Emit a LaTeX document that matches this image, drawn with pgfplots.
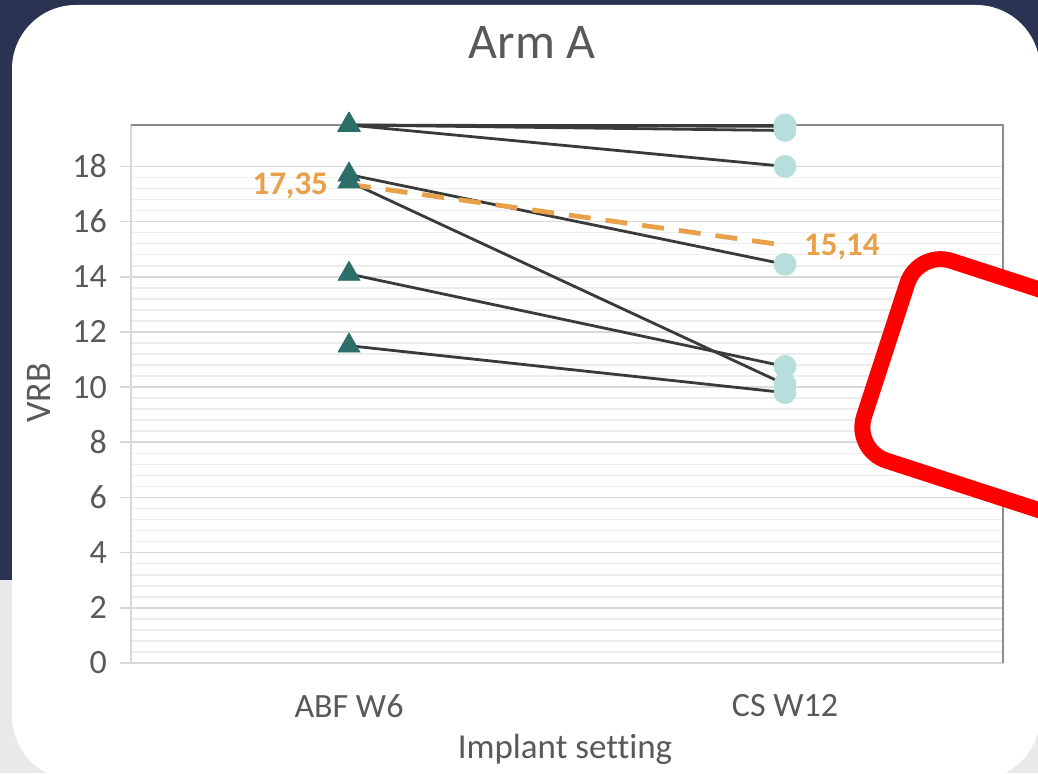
\documentclass[border=0pt]{standalone}
\usepackage{fontspec}
\setmainfont{Carlito}[Ligatures=NoCommon]
\usepackage{pgfplots}
\usepackage{pgfplotstable}
\pgfplotsset{compat=1.18}

\definecolor{navy}{HTML}{2B3352}
\definecolor{greybg}{HTML}{E9E9E9}
\definecolor{txtgrey}{HTML}{595959}
\definecolor{majgrid}{HTML}{D9D9D9}
\definecolor{mingrid}{HTML}{EDEDED}
\definecolor{borderdark}{HTML}{8C8C8C}
\definecolor{linegrey}{HTML}{3A3A3A}
\definecolor{darkteal}{HTML}{2C6E6A}
\definecolor{lightteal}{HTML}{B6DEDA}
\definecolor{meanorange}{HTML}{E8A04A}
\definecolor{boxred}{HTML}{FF0000}

% VRB per subject: x=0 ABF W6, x=1 CS W12
\pgfplotstableread{
x s1 s2 s3 s4 s5 s6 s7 s8
0 19.5 19.5 19.5 19.5 17.7 17.45 14.1 11.5
1 19.5 19.45 19.3 18.0 14.45 10.1 10.75 9.8
}\subjects

\pgfplotstableread{
x mean ang sh
0 17.35 0 -6
1 15.14 180 5
}\means

\begin{document}
\begin{tikzpicture}
\useasboundingbox (0,0) rectangle (519pt,386.5pt);
\begin{scope}[x=0.5pt,y=0.5pt]
  \clip (0,0) rectangle (1038,773);
  \fill[navy] (0,0) rectangle (1038,773);
  \fill[greybg] (0,0) rectangle (1038,193);
  \fill[white, rounded corners=32pt] (12,-7) rectangle (1040,768);
\end{scope}

\begin{axis}[
  at={(65.5pt,55pt)}, anchor=south west,
  scale only axis, width=436pt, height=269pt,
  xmin=-0.5, xmax=1.5, ymin=0, ymax=19.5,
  xtick={0,1}, xticklabels={ABF W6, CS W12},
  ytick={0,2,...,18},
  minor y tick num=4,
  ymajorgrids, yminorgrids,
  major grid style={majgrid, line width=0.8pt},
  minor grid style={mingrid, line width=0.8pt},
  axis line style={majgrid, line width=0.8pt},
  tick pos=left,
  tick align=outside,
  major tick length=5.5pt, minor tick length=0pt,
  ytick style={majgrid, line width=0.8pt},
  xtick style={draw=none},
  ticklabel style={font=\fontsize{17}{20}\selectfont, text=txtgrey},
  yticklabel style={xshift=-3pt},
  xticklabel style={yshift=-6.5pt},
  /pgf/number format/assume math mode=true,
  clip=false,
]
\draw[borderdark, line width=0.8pt] (rel axis cs:0,1) -- (rel axis cs:1,1) -- (rel axis cs:1,0);

\pgfplotsinvokeforeach{s1,s2,s3,s4,s5,s6,s7,s8}{
  \addplot[linegrey, line width=1.4pt, mark=none] table[x=x,y=#1]{\subjects};
}
\pgfplotsinvokeforeach{s1,s2,s3,s4,s5,s6,s7,s8}{
  \addplot[only marks, mark=triangle*, mark size=6.3pt, color=darkteal,
    restrict x to domain=-0.1:0.1] table[x=x,y=#1]{\subjects};
  \addplot[only marks, mark=*, mark size=5.5pt, color=lightteal,
    restrict x to domain=0.9:1.1] table[x=x,y=#1]{\subjects};
}
\addplot[meanorange, line width=2.4pt, dash pattern=on 11pt off 7.5pt, mark=none,
  point meta=y,
  visualization depends on={\thisrow{ang} \as \ang},
  visualization depends on={\thisrow{sh} \as \sh},
  nodes near coords={\pgfmathprintnumber[fixed, fixed zerofill, precision=2, use comma]{\pgfplotspointmeta}},
  nodes near coords style={anchor=\ang, xshift=\sh pt, yshift=-1pt,
    font=\bfseries\fontsize{16.5}{19}\selectfont, text=meanorange, solid},
] table[x=x,y=mean]{\means};
\end{axis}

\begin{scope}[x=0.5pt,y=0.5pt]
  \clip (0,0) rectangle (1038,773);
  \begin{scope}[shift={(913,533)}, rotate=-18]
    \draw[boxred, fill=white, line width=8pt, rounded corners=17.5pt] (8,-8) rectangle (400,-218);
  \end{scope}
  \node[anchor=base, text=txtgrey, font=\fontsize{25}{30}\selectfont, inner sep=0pt] at (532,714) {Arm A};
  \node[anchor=base, text=txtgrey, font=\fontsize{17.5}{21}\selectfont, inner sep=0pt] at (565,15) {Implant setting};
  \node[anchor=base, rotate=90, text=txtgrey, font=\fontsize{18}{21}\selectfont, inner sep=0pt] at (50,380) {VRB};
\end{scope}
\end{tikzpicture}
\end{document}
